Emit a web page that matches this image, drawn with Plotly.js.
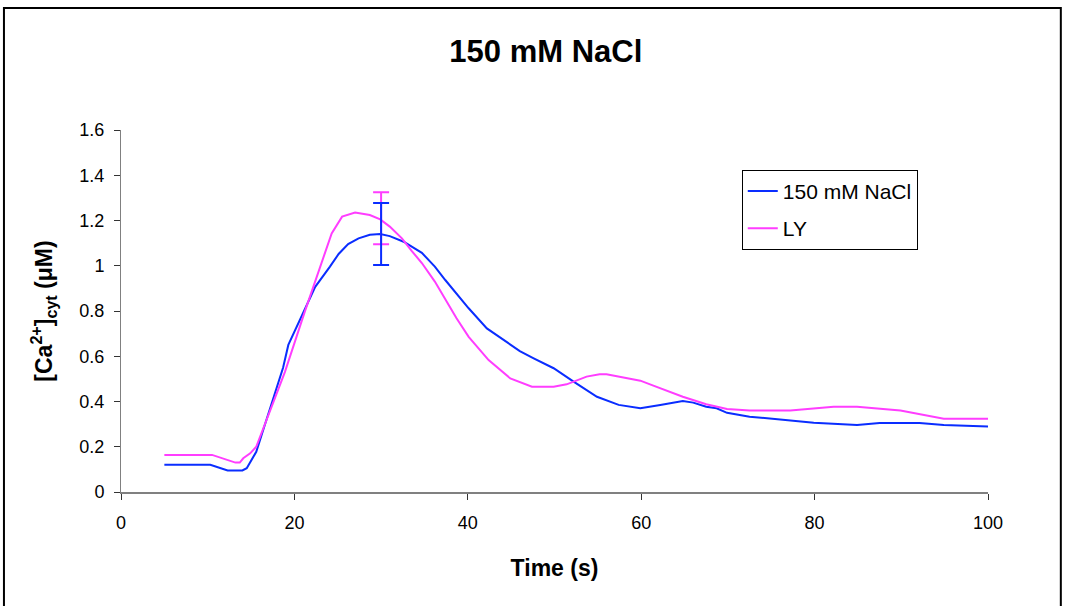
<!DOCTYPE html>
<html>
<head>
<meta charset="utf-8">
<script src="https://cdn.plot.ly/plotly-3.0.1.min.js"></script>
<style>
html,body{margin:0;padding:0;background:#fff;}
#chart{width:1066px;height:606px;}
</style>
</head>
<body>
<div id="chart"></div>
<script>
// Series: 150 mM NaCl
const timeNaCl = [5, 10.3, 12.3, 14, 14.5, 15.6, 16.2, 18, 18.7, 19.3, 19.9, 21.4, 22.4, 24.1, 25.1, 26.2, 27.4, 28.7, 29.9, 31, 32.6, 34.7, 36.2, 37.4, 38.7, 40.1, 42.2, 44.9, 46, 47.6, 49.9, 52.2, 54.9, 57.4, 59.9, 62.2, 64.8, 66, 67.5, 68.7, 69.9, 72.5, 75.2, 79.9, 84.9, 87.5, 92.1, 94.9, 100];
const caNaCl = [0.12, 0.12, 0.095, 0.095, 0.105, 0.178, 0.25, 0.465, 0.55, 0.65, 0.70, 0.826, 0.907, 0.996, 1.052, 1.096, 1.121, 1.137, 1.14, 1.131, 1.106, 1.057, 0.996, 0.937, 0.878, 0.812, 0.723, 0.65, 0.623, 0.591, 0.547, 0.488, 0.421, 0.385, 0.37, 0.385, 0.402, 0.395, 0.377, 0.37, 0.35, 0.333, 0.323, 0.306, 0.296, 0.305, 0.305, 0.296, 0.289];
// Series: LY
const timeLY = [5, 10.5, 13.2, 13.7, 14.1, 14.9, 15.6, 16.2, 17.6, 18.9, 21.2, 22.6, 24.3, 25.5, 27, 28.7, 29.9, 31, 32.4, 33.5, 34.7, 36.2, 37.4, 38.7, 40.1, 42.4, 44.9, 47.4, 49.9, 51.4, 53.7, 55.2, 56, 59.9, 61.4, 64.8, 67.5, 69.9, 72.5, 77.2, 82.2, 84.9, 89.9, 94.9, 100];
const caLY = [0.164, 0.164, 0.13, 0.13, 0.149, 0.171, 0.2, 0.26, 0.4, 0.53, 0.797, 0.952, 1.143, 1.217, 1.235, 1.224, 1.205, 1.173, 1.121, 1.067, 1.012, 0.93, 0.849, 0.768, 0.686, 0.583, 0.502, 0.465, 0.465, 0.476, 0.51, 0.52, 0.52, 0.492, 0.47, 0.421, 0.388, 0.367, 0.36, 0.36, 0.377, 0.377, 0.36, 0.324, 0.324];
// Error bars (one point at t = 30 s)
const errTime = [30];
const errNaClY = [1.14];
const errNaClSD = [0.137];
const errLYY = [1.21];
const errLYSD = [0.115];

const seriesNames = ['150 mM NaCl', 'LY'];
const blue = '#0a2dff';
const pink = '#ff3dff';

const traces = [
  {x: timeNaCl, y: caNaCl, type: 'scatter', mode: 'lines', name: seriesNames[0],
   line: {color: blue, width: 2}, legendgroup: 'a'},
  {x: timeLY, y: caLY, type: 'scatter', mode: 'lines', name: seriesNames[1],
   line: {color: pink, width: 2}, legendgroup: 'b'},
  {x: errTime, y: errLYY, type: 'scatter', mode: 'lines', showlegend: false, hoverinfo: 'skip',
   line: {color: pink, width: 2},
   error_y: {type: 'data', array: errLYSD, visible: true, color: pink, thickness: 2, width: 8}},
  {x: errTime, y: errNaClY, type: 'scatter', mode: 'lines', showlegend: false, hoverinfo: 'skip',
   line: {color: blue, width: 2},
   error_y: {type: 'data', array: errNaClSD, visible: true, color: blue, thickness: 2, width: 8}}
];

const font = 'Liberation Sans, Arial, sans-serif';

const layout = {
  width: 1066, height: 606,
  margin: {l: 121, r: 78, t: 130, b: 114},
  paper_bgcolor: '#fff', plot_bgcolor: '#fff',
  font: {family: font, color: '#000', size: 18},
  showlegend: true,
  title: {text: '<b>150 mM NaCl</b>', font: {family: font, size: 31, color: '#000'},
          xref: 'paper', x: 0.49, xanchor: 'center', yref: 'container', y: 0.916, yanchor: 'middle'},
  xaxis: {
    range: [0, 100], tickvals: [0, 20, 40, 60, 80, 100], ticktext: ['0', '20', '40', '60', '80', '100'],
    showgrid: false, zeroline: false, showline: true, linecolor: '#808080', linewidth: 2,
    ticks: 'outside', ticklen: 6, tickcolor: '#333', tickwidth: 1,
    tickfont: {family: font, size: 18, color: '#000'}, ticklabelstandoff: 7,
    title: {text: '<b>Time (s)</b>', font: {family: font, size: 23, color: '#000'}, standoff: 28}
  },
  yaxis: {
    range: [0, 1.6], tickvals: [0, 0.2, 0.4, 0.6, 0.8, 1, 1.2, 1.4, 1.6],
    ticktext: ['0', '0.2', '0.4', '0.6', '0.8', '1', '1.2', '1.4', '1.6'],
    showgrid: false, zeroline: false, showline: true, linecolor: '#808080', linewidth: 1,
    ticks: 'outside', ticklen: 6, tickcolor: '#333', tickwidth: 1,
    tickfont: {family: font, size: 18, color: '#000'}, ticklabelstandoff: 6,
    title: {text: '<b>[Ca<sup>2+</sup>]<sub>cyt</sub> (μM)</b>', font: {family: font, size: 23, color: '#000'}, standoff: 20}
  },
  legend: {
    x: 0.716, y: 0.89, xanchor: 'left', yanchor: 'top',
    bgcolor: '#fff', bordercolor: '#000', borderwidth: 1,
    font: {family: font, size: 21, color: '#000'},
    traceorder: 'grouped', tracegroupgap: 7,
    entrywidth: 150, entrywidthmode: 'pixels'
  },
  shapes: [
    {type: 'rect', xref: 'paper', yref: 'paper', x0: -0.135, x1: 1.084, y0: -0.4, y1: 1.337,
     line: {color: '#000', width: 2}, fillcolor: 'rgba(0,0,0,0)', layer: 'below'}
  ]
};

Plotly.newPlot('chart', traces, layout, {staticPlot: true, displayModeBar: false});
</script>
</body>
</html>
